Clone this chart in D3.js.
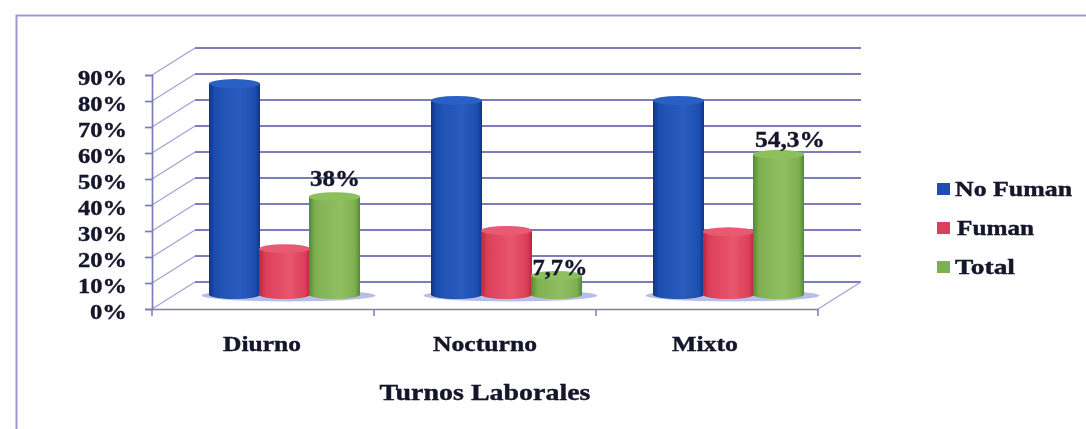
<!DOCTYPE html>
<html><head><meta charset="utf-8">
<script src="https://cdn.jsdelivr.net/npm/d3@7"></script>
<style>html,body{margin:0;padding:0;background:#fff;overflow:hidden}
svg{display:block}
text{font-family:"Liberation Serif",serif;font-weight:bold;fill:#14142a;stroke:#14142a;stroke-width:.4}
</style></head><body><svg id="c" width="1086" height="429"></svg>
<script>
const categories=["Diurno","Nocturno","Mixto"];
const categoryWidths=[78,104,66];
const seriesNames=["No Fuman","Fuman","Total"];
const legendWidths=[117,77,60];
const noFuman=[81.5,75,75];
const fuman=[18,25,24.5];
const total=[38,7.7,54.3];
const valueLabels=["38%","7,7%","54,3%"];
const valueWidths=[50,55,70];
const yTicks=[0,10,20,30,40,50,60,70,80,90];
const colors={ "No Fuman":["#0f3488","#2a5cbe","#1d4fb0","#2c60c4"], "Fuman":["#b82442","#e8566e","#dc4058","#e85a72"], "Total":["#528a30","#8fbf62","#7fb050","#8cc05c"] };
const seriesValues=[noFuman,fuman,total];

const svg=d3.select("#c");
const defs=svg.append("defs");
defs.append("filter").attr("id","soft").attr("x","-5%").attr("y","-5%").attr("width","110%").attr("height","110%")
  .append("feGaussianBlur").attr("stdDeviation",0.6);
const root=svg.append("g").attr("filter","url(#soft)");

const depth={x:43,y:-27};
const y=d3.scaleLinear().domain([0,90]).range([309,75]);
const x=d3.scaleBand().domain(categories).range([152,818]);
const inner=d3.scaleBand().domain(seriesNames).range([-75,75]);
const grid="#7c7cb8";

// frame
root.append("path").attr("d","M16.5,429V15.5H1086").attr("fill","none").attr("stroke","#9a9ad0").attr("stroke-width",2);

// gridlines on wall and side wall
const g=root.append("g");
yTicks.forEach(t=>{
  g.append("line").attr("x1",152+depth.x).attr("x2",818+depth.x).attr("y1",y(t)+depth.y).attr("y2",y(t)+depth.y)
    .attr("stroke",grid).attr("stroke-width",1.8);
  g.append("line").attr("x1",152).attr("x2",152+depth.x).attr("y1",y(t)).attr("y2",y(t)+depth.y)
    .attr("stroke","#a0a0d4").attr("stroke-width",1.2);
});
g.append("line").attr("x1",818).attr("x2",818+depth.x).attr("y1",y(0)).attr("y2",y(0)+depth.y).attr("stroke","#a0a0d4").attr("stroke-width",1.2);

// axes
const axisY=d3.axisLeft(y).tickValues(yTicks).tickFormat(d=>d+"%").tickSize(7).tickPadding(18);
const ay=root.append("g").attr("transform","translate(152,0)").call(axisY);
const ax=root.append("g").attr("transform","translate(0,309)").call(d3.axisBottom(x).tickSize(0).tickFormat(""));
[ay,ax].forEach(a=>{a.selectAll("path,line").attr("stroke",grid).attr("stroke-width",1.7);});
ay.selectAll("text").attr("font-size",22).attr("dy","0.42em").attr("textLength",49).attr("lengthAdjust","spacingAndGlyphs");
ay.selectAll("text").filter(d=>d===0).attr("textLength",37);
ax.selectAll(".tick").remove();
[0,1,2,3].forEach(i=>{
  const px=x.range()[0]+i*x.step();
  ax.append("line").attr("x1",px).attr("x2",px).attr("y1",0).attr("y2",7).attr("stroke",grid).attr("stroke-width",1.5);
});
const categoryShift=[-1,0,-2];
categories.forEach((c,i)=>{
  ax.append("text").attr("x",x(c)+x.bandwidth()/2+categoryShift[i]).attr("y",42).attr("text-anchor","middle").attr("font-size",22)
    .attr("textLength",categoryWidths[i]).attr("lengthAdjust","spacingAndGlyphs").text(c);
});
root.append("text").attr("x",485).attr("y",400).attr("text-anchor","middle").attr("font-size",24)
  .attr("textLength",211).attr("lengthAdjust","spacingAndGlyphs").text("Turnos Laborales");

// cylinders
const barW=inner.bandwidth();
seriesNames.forEach((s,k)=>{
  const cols=colors[s];
  const lg=defs.append("linearGradient").attr("id","grad"+k);
  lg.append("stop").attr("offset","0").attr("stop-color",cols[0]);
  lg.append("stop").attr("offset","0.12").attr("stop-color",cols[2]);
  lg.append("stop").attr("offset","0.6").attr("stop-color",cols[1]);
  lg.append("stop").attr("offset","0.9").attr("stop-color",cols[2]);
  lg.append("stop").attr("offset","1").attr("stop-color",cols[0]);
});
const bars=root.append("g");
// floor shadows
categories.forEach(c=>{
  const cx=x(c)+x.bandwidth()/2+depth.x/2;
  bars.append("ellipse").attr("cx",cx+4).attr("cy",y(0)+depth.y/2).attr("rx",87).attr("ry",6).attr("fill","#b8bee8");
});
const ry=4.5;
categories.forEach((c,i)=>{
  const cx0=x(c)+x.bandwidth()/2+depth.x/2;
  seriesNames.forEach((s,k)=>{
    const v=seriesValues[k][i];
    const cx=cx0+inner(s)+barW/2;
    const top=y(v)+depth.y/2, base=y(0)+depth.y/2-1;
    const rx=barW/2+0.5;
    bars.append("path").attr("d",`M${cx-rx},${top}V${base}A${rx},${ry} 0 0 0 ${cx+rx},${base}V${top}Z`).attr("fill",`url(#grad${k})`);
    bars.append("ellipse").attr("cx",cx).attr("cy",top).attr("rx",rx).attr("ry",ry).attr("fill",colors[s][3]);
  });
});

// value labels
const labelCenters=[335,560,790];
const labelY=[186,275,147];
categories.forEach((c,i)=>{
  bars.append("text").attr("x",labelCenters[i]).attr("y",labelY[i])
    .attr("text-anchor","middle").attr("font-size",24).attr("textLength",valueWidths[i]).attr("lengthAdjust","spacingAndGlyphs").text(valueLabels[i]);
});

// legend
const lg=root.append("g");
const legY=d3.scalePoint().domain(seriesNames).range([189,267]);
seriesNames.forEach((s,k)=>{
  const yy=legY(s);
  lg.append("rect").attr("x",937).attr("y",yy-6).attr("width",13).attr("height",12).attr("fill",colors[s][2]);
  lg.append("text").attr("x",k===1?957:955).attr("y",yy+7).attr("font-size",22).attr("textLength",legendWidths[k]).attr("lengthAdjust","spacingAndGlyphs").text(s);
});
</script></body></html>
